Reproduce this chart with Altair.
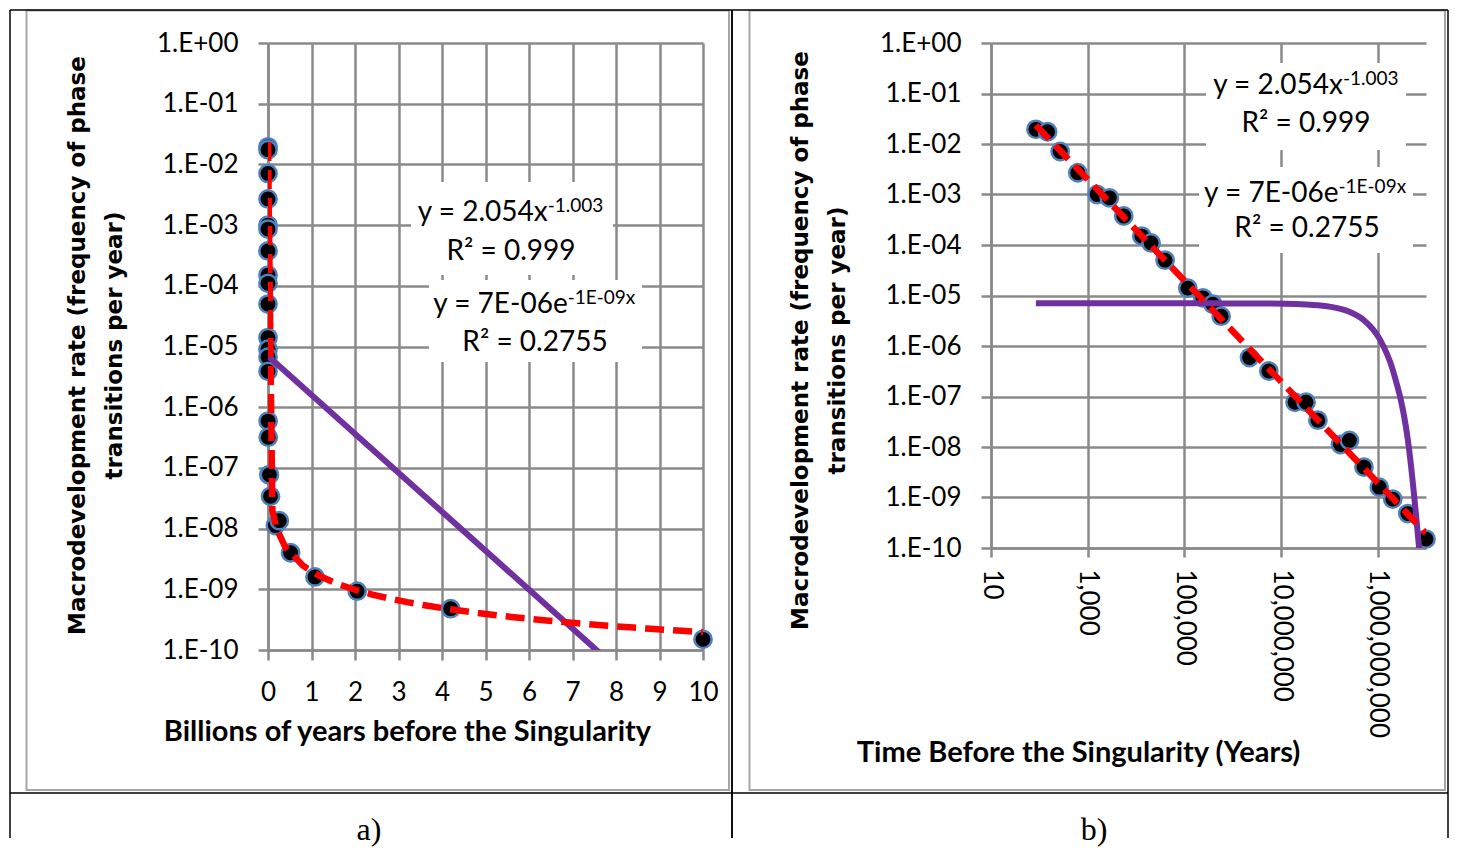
import altair as alt
import pandas as pd

# ---------------- data ----------------
years = [85, 148, 270, 624, 1567, 2810, 5580, 13200, 20500, 40000, 118000, 242000,
         389000, 578000, 2.23e6, 5.6e6, 1.95e7, 3.3e7, 5.8e7, 1.7e8, 2.6e8, 5.2e8,
         1.08e9, 2.05e9, 4.2e9, 1.0e10]
rate = [0.0195, 0.0175, 0.0071, 0.0027, 1.0e-3, 8.6e-4, 3.75e-4, 1.5e-4, 1.1e-4, 5.0e-5,
        1.4e-5, 9.0e-6, 6.7e-6, 3.9e-6, 5.9e-7, 3.2e-7, 7.7e-8, 7.7e-8, 3.4e-8, 1.12e-8,
        1.35e-8, 4.0e-9, 1.6e-9, 9.3e-10, 4.8e-10, 1.5e-10]

y_tick_values = [1, 1e-1, 1e-2, 1e-3, 1e-4, 1e-5, 1e-6, 1e-7, 1e-8, 1e-9, 1e-10]
y_tick_labels = ["1.E+00", "1.E-01", "1.E-02", "1.E-03", "1.E-04", "1.E-05",
                 "1.E-06", "1.E-07", "1.E-08", "1.E-09", "1.E-10"]
xl_tick_values = [0, 1, 2, 3, 4, 5, 6, 7, 8, 9, 10]
xr_tick_values = [10, 1e3, 1e5, 1e7, 1e9]
xr_tick_labels = ["10", "1,000", "100,000", "10,000,000", "1,000,000,000"]

y_title = ["Macrodevelopment rate (frequency of phase", "transitions per year)"]
xl_title = "Billions of years before the Singularity"
xr_title = "Time Before the Singularity (Years)"
pow_eq = ["y = 2.054x", "-1.003", "R\u00b2 = 0.999"]
exp_eq = ["y = 7E-06e", "-1E-09x", "R\u00b2 = 0.2755"]
captions = ["a)", "b)"]

df = pd.DataFrame({"years": years, "rate": rate})
one = pd.DataFrame({"k": [0]})

# ---------------- styles ----------------
GRID = "#8a8a8a"
RED = "#ff0000"
PURPLE = "#7030a0"
W = 435
HL = 607
HR = 505
TOP = -33

YEXPR = "[" + ",".join("'%s'" % s for s in y_tick_labels) + "][round(-log(datum.value)/LN10)]"
XREXPR = "[" + ",".join("'%s'" % s for s in xr_tick_labels) + "][round((log(datum.value)/LN10 - 1)/2)]"

AX = dict(gridColor=GRID, gridWidth=2.5, domainColor=GRID, domainWidth=2.5,
          tickColor=GRID, tickWidth=2.5, labelFont="Lato", labelFontSize=26,
          labelColor="black", titleColor="black", labelOverlap=False, grid=True)


def y_enc(field, title_y):
    return alt.Y(field, type="quantitative",
                 scale=alt.Scale(type="log", domain=[1e-10, 1]),
                 axis=alt.Axis(values=y_tick_values, labelExpr=YEXPR, tickSize=10,
                               labelPadding=20, title=y_title, titleFont="DejaVu Sans",
                               titleFontSize=23, titleFontWeight="bold", titleLineHeight=37,
                               titleX=-191, titleY=title_y, titleBaseline="middle",
                               titleAlign="center", titleAngle=270, **AX))


def xl_enc(field):
    return alt.X(field, type="quantitative", scale=alt.Scale(domain=[0, 10], nice=False),
                 axis=alt.Axis(values=xl_tick_values, tickSize=10, labelPadding=19,
                               labelFlush=False, title=xl_title, titleFont="Lato",
                               titleFontSize=29, titleFontWeight="bold", titleX=139,
                               titleY=81, titleBaseline="middle", titleAlign="center", **AX))


def xr_enc(field):
    return alt.X(field, type="quantitative", scale=alt.Scale(type="log", domain=[10, 1e10]),
                 axis=alt.Axis(values=xr_tick_values, labelExpr=XREXPR, tickSize=9,
                               labelPadding=12, labelAngle=90, labelAlign="left",
                               labelBaseline="middle", labelFlush=False, title=xr_title,
                               titleFont="Lato", titleFontSize=29, titleFontWeight="bold",
                               titleX=87, titleY=204, titleBaseline="middle",
                               titleAlign="center", **AX))


def text(t, x, y, align="center", size=28, font="Lato"):
    return alt.Chart(one).mark_text(align=align, baseline="middle", font=font,
                                    fontSize=size, color="black").encode(
        x=alt.value(x), y=alt.value(y), text=alt.value(t))


def hrule(x1, x2, y, color="black", w=1.5):
    return alt.Chart(one).mark_rule(color=color, strokeWidth=w).encode(
        x=alt.value(x1), x2=alt.value(x2), y=alt.value(y))


def vrule(x, y1, y2, color="black", w=1.5):
    return alt.Chart(one).mark_rule(color=color, strokeWidth=w).encode(
        x=alt.value(x), y=alt.value(y1), y2=alt.value(y2))


def box(x1, x2, y1, y2):
    return alt.Chart(one).mark_rect(fill="white", strokeWidth=0).encode(
        x=alt.value(x1), x2=alt.value(x2), y=alt.value(y1), y2=alt.value(y2))


def frame(x1, x2, y1, y2):
    return alt.Chart(one).mark_rect(fill="transparent", stroke="#a6a6a6", strokeWidth=2).encode(
        x=alt.value(x1), x2=alt.value(x2), y=alt.value(y1), y2=alt.value(y2))


def points(base, xenc, yenc):
    return base.mark_circle(size=300, color="black", stroke="#4f81bd", strokeWidth=2.5,
                            opacity=1).encode(x=xenc, y=yenc)


# ---------------- left panel (linear x in billions) ----------------
baseL = alt.Chart(df).transform_calculate(xb="datum.years/1e9")
ptsL = points(baseL, xl_enc("xb"), y_enc("rate", 302))
purpleL = baseL.transform_calculate(ly="log(datum.rate)").transform_regression(
    "xb", "ly", method="linear").transform_calculate(fit="exp(datum.ly)").mark_line(
    color=PURPLE, strokeWidth=6, clip=True).encode(x=xl_enc("xb"), y=y_enc("fit", 302))
redL = baseL.transform_regression("xb", "rate", method="pow").mark_line(
    color=RED, strokeWidth=6.5, strokeDash=[19, 9], clip=True).encode(
    x=xl_enc("xb"), y=y_enc("rate", 302))

left = alt.layer(
    frame(-241.5, 461, TOP + 0.5, 747),
    box(143, 345, 139, 232), box(161, 374, 237, 319),
    ptsL, purpleL, redL,
    text(pow_eq[0], 279.7, 170, align="right"),
    text(pow_eq[1], 279.7, 163, align="left", size=19),
    text(pow_eq[2], 243, 209),
    text(exp_eq[0], 299.7, 262, align="right"),
    text(exp_eq[1], 299.7, 255, align="left", size=19),
    text(exp_eq[2], 267, 299.5),
    hrule(-258, 464, TOP), vrule(-258, TOP, 795), vrule(464, TOP, 795),
    hrule(-258, 464, 750),
    text(captions[0], 101, 787, size=32, font="Liberation Serif"),
).properties(width=W, height=HL)

# ---------------- right panel (log x in years) ----------------
baseR = alt.Chart(df)
ptsR = points(baseR, xr_enc("years"), y_enc("rate", 297))
purpleR = baseR.transform_calculate(
    ly="log(datum.rate)", xly="datum.years*log(datum.rate)", xx="datum.years*datum.years"
).transform_joinaggregate(
    mx="mean(years)", mly="mean(ly)", mxly="mean(xly)", mxx="mean(xx)"
).transform_calculate(
    b="(datum.mxly - datum.mx*datum.mly)/(datum.mxx - datum.mx*datum.mx)"
).transform_calculate(
    fit="exp(datum.mly + datum.b*(datum.years - datum.mx))"
).mark_line(color=PURPLE, strokeWidth=6, clip=True, interpolate="monotone").encode(
    x=xr_enc("years"), y=y_enc("fit", 297))
redR = baseR.transform_regression("years", "rate", method="pow").mark_line(
    color=RED, strokeWidth=6.5, strokeDash=[19, 9], clip=True).encode(
    x=xr_enc("years"), y=y_enc("rate", 297))

right = alt.layer(
    frame(-241.5, 454, TOP + 0.5, 747),
    box(215, 415, 20, 107), box(208, 422, 124, 210),
    ptsR, purpleR, redR,
    text(pow_eq[0], 352, 43, align="right"),
    text(pow_eq[1], 352, 36, align="left", size=19),
    text(pow_eq[2], 315, 81),
    text(exp_eq[0], 347.5, 151, align="right"),
    text(exp_eq[1], 347.5, 144, align="left", size=19),
    text(exp_eq[2], 316, 186),
    hrule(-259, 457, TOP), vrule(-259, TOP, 795), vrule(457, TOP, 795),
    hrule(-259, 457, 750),
    text(captions[1], 103, 787, size=32, font="Liberation Serif"),
).properties(width=W, height=HR)

chart = alt.hconcat(left, right, spacing=-4).properties(padding=0).configure_view(
    stroke="transparent")

chart.save("out.html", embed_options={"renderer": "svg", "actions": False})
